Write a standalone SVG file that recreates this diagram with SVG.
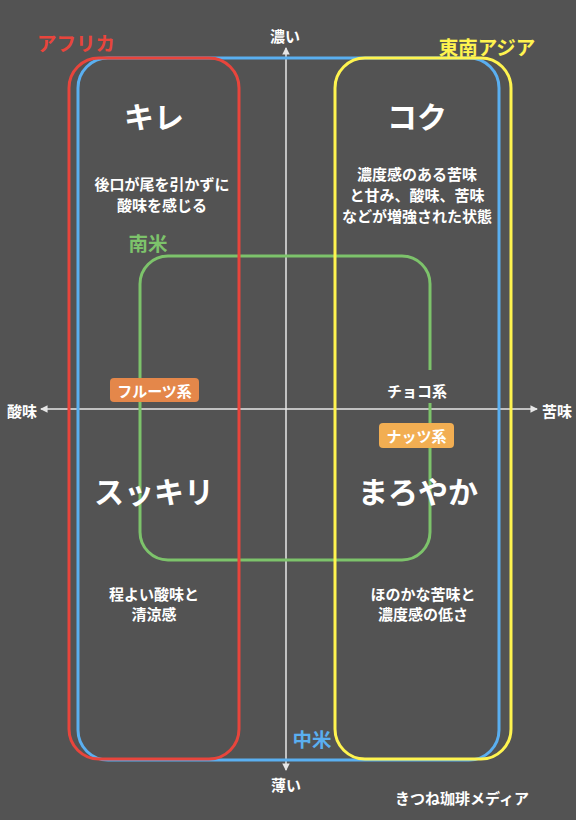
<svg xmlns="http://www.w3.org/2000/svg" width="576" height="820" viewBox="0 0 576 820">
<defs>
<style>
text{font-family:"Noto Sans CJK JP","Noto Sans",sans-serif;text-anchor:middle;dominant-baseline:central;font-weight:bold}
.region{fill:none;stroke-width:3}
.cat{font-size:19.5px}
.big{font-size:30px;fill:#fff}
.desc{font-size:15px;fill:#fff}
.axl{font-size:15px;fill:#fff}
.axis{stroke:#e6e6e6;stroke-width:1.5;fill:none}
</style>
<marker id="ah" viewBox="0 0 8 8" refX="7" refY="4" markerWidth="5" markerHeight="5" orient="auto-start-reverse">
<path d="M0,0 L8,4 L0,8 Z" fill="#e6e6e6"/>
</marker>
</defs>
<rect width="576" height="820" fill="#535353"/>
<g id="axes">
<line class="axis" x1="286" y1="770" x2="286" y2="48" marker-end="url(#ah)" marker-start="url(#ah)"/>
<line class="axis" x1="41" y1="409" x2="537" y2="409" marker-end="url(#ah)" marker-start="url(#ah)"/>
</g>
<g id="chuubei">
<rect class="region" x="78" y="58" width="421" height="702" rx="30" stroke="#5aaff0"/>
<text class="cat" x="312" y="738" fill="#5aaff0">中米</text>
</g>
<g id="nanbei">
<rect class="region" x="140" y="256" width="290" height="304" rx="28" stroke="#7dc36b"/>
<text class="cat" x="148" y="242" fill="#7dc36b">南米</text>
</g>
<g id="africa">
<rect class="region" x="69" y="58" width="170" height="701" rx="30" stroke="#e8453c"/>
<text class="cat" x="76" y="42" fill="#e8453c">アフリカ</text>
</g>
<g id="sea">
<rect class="region" x="335" y="58" width="176" height="701" rx="30" stroke="#fff44f"/>
<text class="cat" x="487" y="46" fill="#fff44f">東南アジア</text>
</g>
<g id="axis-labels">
<text class="axl" x="285" y="35">濃い</text>
<text class="axl" x="286" y="784">薄い</text>
<text class="axl" x="22" y="410">酸味</text>
<text class="axl" x="557" y="410">苦味</text>
</g>
<g id="kire">
<text class="big" x="154" y="115">キレ</text>
<text class="desc" x="162" y="183">後口が尾を引かずに</text>
<text class="desc" x="162" y="204">酸味を感じる</text>
</g>
<g id="koku">
<text class="big" x="417" y="115">コク</text>
<text class="desc" x="417" y="173">濃度感のある苦味</text>
<text class="desc" x="417" y="194">と甘み、酸味、苦味</text>
<text class="desc" x="417" y="215">などが増強された状態</text>
</g>
<g id="sukkiri">
<text class="big" x="154" y="490">スッキリ</text>
<text class="desc" x="154" y="593">程よい酸味と</text>
<text class="desc" x="154" y="613">清涼感</text>
</g>
<g id="maroyaka">
<text class="big" x="418" y="490">まろやか</text>
<text class="desc" x="423" y="593">ほのかな苦味と</text>
<text class="desc" x="423" y="613">濃度感の低さ</text>
</g>
<g id="fruits">
<rect x="110" y="378" width="89" height="24" rx="4" fill="#e4874a"/>
<text class="desc" x="154.5" y="390">フルーツ系</text>
</g>
<g id="choco">
<rect x="380" y="370" width="74" height="33" fill="#535353"/>
<text class="desc" x="417" y="390.5">チョコ系</text>
</g>
<g id="nuts">
<rect x="379" y="423" width="75" height="25" rx="4" fill="#f2ae52"/>
<text class="desc" x="416.5" y="435.5">ナッツ系</text>
</g>
<g id="credit">
<text class="desc" x="462" y="797">きつね珈琲メディア</text>
</g>
</svg>
